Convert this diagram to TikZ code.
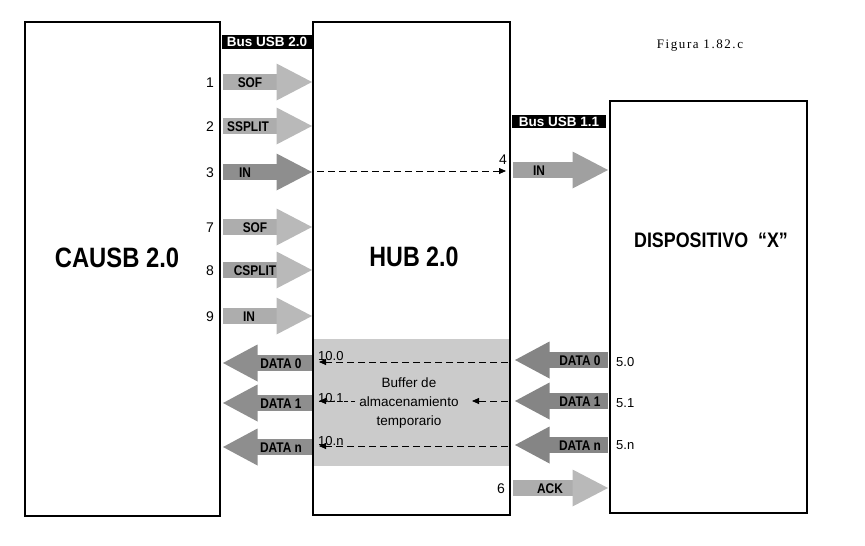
\documentclass[tikz,border=0pt]{standalone}
\usepackage{fontspec}
\usepackage{graphicx}
\setmainfont{Liberation Sans}
\newfontfamily\cb[FakeStretch=0.85]{Liberation Sans}
\newfontfamily\figfont[LetterSpace=12]{Liberation Serif}
\usetikzlibrary{arrows.meta}
\definecolor{lightA}{HTML}{B9B9B9}
\definecolor{lightB}{HTML}{ADADAD}
\definecolor{darkA}{HTML}{8E8E8E}
\definecolor{darkB}{HTML}{858585}
\definecolor{midA}{HTML}{A0A0A0}
\definecolor{bufgray}{HTML}{CBCBCB}
% right-pointing block arrow: x1, x2(tip), y, shaft colour, head colour, name
\newcommand\rBlk[6]{%
  \fill[#4] (#1,#3-8) rectangle (#2-35,#3+8);
  \fill[#5] (#2-35.5,#3-18.5) -- (#2,#3) -- (#2-35.5,#3+18.5) -- cycle;
  \coordinate (#6) at (#2,#3);}
% left-pointing block arrow: x1(tip), x2, y, shaft colour, head colour, name
\newcommand\lBlk[6]{%
  \fill[#4] (#1+34,#3-8) rectangle (#2,#3+8);
  \fill[#5] (#1+34.5,#3-18.5) -- (#1,#3) -- (#1+34.5,#3+18.5) -- cycle;
  \coordinate (#6) at (#1,#3);}
\begin{document}
\begin{tikzpicture}[x=1pt,y=-1pt,
  box/.style={draw=black,line width=2.2pt,fill=none,inner sep=0pt},
  albl/.style={font=\cb\fontsize{14}{15}\selectfont\bfseries,anchor=base,inner sep=0pt},
  num/.style={font=\fontsize{14}{15}\selectfont,anchor=base east,inner sep=0pt},
  sub/.style={font=\fontsize{13}{14}\selectfont,anchor=base west,inner sep=0pt},
  bus/.style={fill=black,text=white,font=\fontsize{13.5}{14}\selectfont\bfseries,
     text height=9.8pt,text depth=0pt,inner xsep=1pt,inner ysep=2pt},
  dline/.style={dashed,dash pattern=on 7pt off 4pt,line width=0.8pt,
     -{Triangle[length=7pt,width=6pt]}},
  big/.style={font=\fontsize{28}{30}\selectfont\bfseries,anchor=base,inner sep=0pt}]
\useasboundingbox (0,0) rectangle (865,546);

% buffer area
\fill[bufgray] (314,339) rectangle (509,466);

% boxes
\node[box,minimum width=195pt,minimum height=494pt] (cau) at (122.5,269) {};
\node[box,minimum width=197pt,minimum height=493pt] (hub) at (411.5,268.5) {};
\node[box,minimum width=197pt,minimum height=412pt] (dev) at (708.5,307) {};

% main labels
\node[big] (caul) at (117,267) {\scalebox{0.85}[1]{CAUSB 2.0}};
\node[big] (hubl) at (414,266) {\scalebox{0.83}[1]{HUB 2.0}};
\node[font=\fontsize{21}{24}\selectfont\bfseries,anchor=base,inner sep=0pt] (devl) at (711,247)
  {\scalebox{0.85}[1]{DISPOSITIVO\ \ “X”}};
\node[font=\figfont\fontsize{13}{14}\selectfont,anchor=base,inner sep=0pt] (fig) at (700,48) {Figura 1.82.c};

% bus labels
\node[bus,minimum width=90pt] (bus2) at (267,42) {Bus USB 2.0};
\node[bus,minimum width=94pt,text height=9.3pt,inner ysep=2pt] (bus1) at (559,121.5) {Bus USB 1.1};

% left arrows (to hub)
\rBlk{223}{312}{82}{lightB}{lightA}{a1}
\rBlk{223}{312}{126}{lightB}{lightA}{a2}
\rBlk{223}{312}{172}{darkA}{darkA}{a3}
\rBlk{223}{312}{227}{lightB}{lightA}{a7}
\rBlk{223}{312}{270}{midA}{lightA}{a8}
\rBlk{223}{312}{316}{lightB}{lightA}{a9}
\node[albl] (t1) at (250,87) {SOF};
\node[albl] (t2) at (248,131) {SSPLIT};
\node[albl] (t3) at (245,177) {IN};
\node[albl] (t7) at (255,232) {SOF};
\node[albl] (t8) at (255,275) {CSPLIT};
\node[albl] (t9) at (249,321) {IN};
\node[num] (n1) at (214,87) {1};
\node[num] (n2) at (214,131) {2};
\node[num] (n3) at (214,177) {3};
\node[num] (n7) at (214,232) {7};
\node[num] (n8) at (214,275) {8};
\node[num] (n9) at (214,321) {9};

% hub -> device
\rBlk{513}{608}{170}{midA}{midA}{a4}
\node[albl] (t4) at (539,175) {IN};
\node[num,anchor=base] (n4) at (503,164) {4};
\coordinate (s3) at (317,171);
\coordinate (e3) at (506,171);
\draw[dline] (s3) -- (e3);

% device -> hub data arrows
\lBlk{515}{608}{360}{darkB}{darkB}{r0}
\lBlk{515}{608}{401}{darkB}{darkB}{r1}
\lBlk{515}{608}{445}{darkB}{darkB}{rn}
\node[albl] (tr0) at (580,365) {DATA 0};
\node[albl] (tr1) at (580,406) {DATA 1};
\node[albl] (trn) at (580,450) {DATA n};
\node[sub] (s50) at (616,366) {5.0};
\node[sub] (s51) at (616,407) {5.1};
\node[sub] (s5n) at (616,449) {5.n};

% hub -> host data arrows
\lBlk{223}{312}{363}{darkA}{darkA}{l0}
\lBlk{223}{312}{403}{darkA}{darkA}{l1}
\lBlk{223}{312}{447}{darkA}{darkA}{ln}
\node[albl] (tl0) at (281,368) {DATA 0};
\node[albl] (tl1) at (281,408) {DATA 1};
\node[albl] (tln) at (281,452) {DATA n};
\node[sub] (s100) at (318,360) {10.0};
\node[sub] (s101) at (318,402) {10.1};
\node[sub] (s10n) at (318,445) {10.n};

% buffer text
\node[font=\fontsize{13.5}{19}\selectfont,align=center,inner sep=0pt] (buf) at (409,403)
  {Buffer de\\almacenamiento\\temporario};

% dashed transfers through buffer
\coordinate (b0s) at (508,362);
\coordinate (b0e) at (319,362);
\coordinate (b1s) at (508,401);
\coordinate (b1e) at (472,401);
\coordinate (b1s2) at (355,401);
\coordinate (b1e2) at (319,401);
\coordinate (bns) at (508,446);
\coordinate (bne) at (319,446);
\draw[dline] (b0s) -- (b0e);
\draw[dline] (b1s) -- (b1e);
\draw[dline,dash pattern=on 4pt off 3pt] (b1s2) -- (b1e2);
\draw[dline] (bns) -- (bne);

% ACK
\rBlk{513}{608}{488}{lightB}{lightA}{a6}
\node[albl] (t6) at (550,493) {ACK};
\node[num] (n6) at (505,493) {6};
\end{tikzpicture}
\end{document}
